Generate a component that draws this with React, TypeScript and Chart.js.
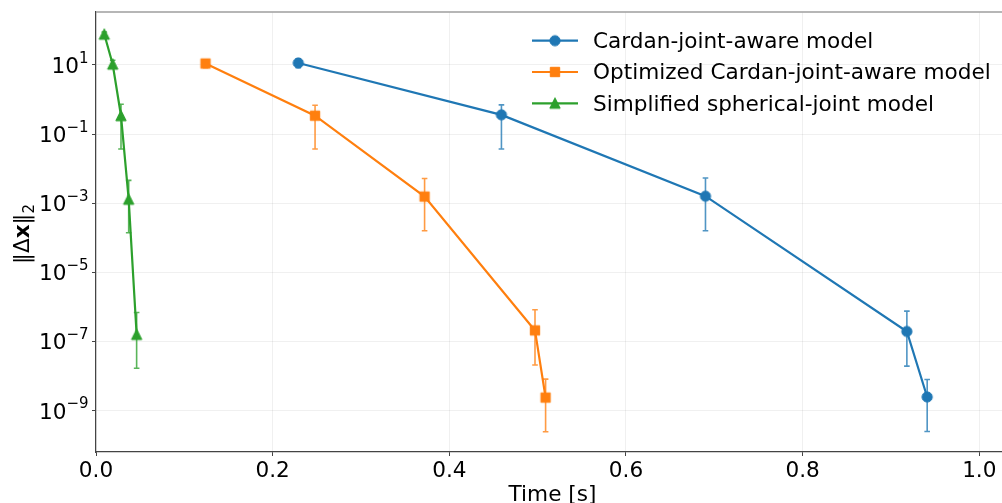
import React, { useEffect, useRef } from 'react';
import { Chart, registerables } from 'chart.js';

Chart.register(...registerables);

const FONT = "'DejaVu Sans', 'Liberation Sans', sans-serif";
const FS = 21.6;

const xTitle = 'Time [s]';
const seriesNames = [
  'Cardan-joint-aware model',
  'Optimized Cardan-joint-aware model',
  'Simplified spherical-joint model',
];
const seriesColors = ['#1f77b4', '#ff7f0e', '#2ca02c'];
const seriesErrColors = ['rgba(31,119,180,0.78)', 'rgba(255,127,14,0.78)', 'rgba(44,160,44,0.78)'];
const seriesMarkers = ['circle', 'square', 'triangle'];

// Cardan-joint-aware model
const cardanTime = [0.229, 0.459, 0.69, 0.918, 0.941];
const cardanErr = [11.4, 0.36, 1.6e-3, 1.96e-7, 2.5e-9];
const cardanUpper = [15, 0.7, 5.4e-3, 7.6e-7, 8.0e-9];
const cardanLower = [8.3, 0.037, 1.6e-4, 1.95e-8, 2.5e-10];

// Optimized Cardan-joint-aware model
const optTime = [0.124, 0.248, 0.372, 0.497, 0.509];
const optErr = [11.0, 0.34, 1.56e-3, 2.1e-7, 2.4e-9];
const optUpper = [14, 0.68, 5.2e-3, 8.3e-7, 8.2e-9];
const optLower = [8.3, 0.037, 1.6e-4, 2.1e-8, 2.47e-10];

// Simplified spherical-joint model
const sphTime = [0.0094, 0.0189, 0.0283, 0.037, 0.046];
const sphErr = [77, 10.5, 0.34, 1.3e-3, 1.6e-7];
const sphUpper = [90, 13.7, 0.73, 4.6e-3, 6.9e-7];
const sphLower = [66, 8.0, 0.037, 1.4e-4, 1.7e-8];

const xTicks = [0, 0.2, 0.4, 0.6, 0.8, 1.0];
const yTickExponents = [-9, -7, -5, -3, -1, 1];

const X_MIN = 0;
const X_MAX = 1.0257;
const Y_MIN = 6.4e-11;
const Y_MAX = 340;

function makeMarker(shape: string, color: string): HTMLCanvasElement {
  const c = document.createElement('canvas');
  c.width = 14;
  c.height = 14;
  const ctx = c.getContext('2d')!;
  ctx.fillStyle = color;
  ctx.strokeStyle = color;
  ctx.lineWidth = 1;
  ctx.beginPath();
  if (shape === 'circle') {
    ctx.arc(7, 7, 5.1, 0, Math.PI * 2);
  } else if (shape === 'square') {
    ctx.rect(2.3, 2.3, 9.4, 9.4);
  } else {
    ctx.moveTo(7, 1.6);
    ctx.lineTo(12.2, 12.0);
    ctx.lineTo(1.8, 12.0);
    ctx.closePath();
  }
  ctx.fill();
  ctx.stroke();
  return c;
}

const errorBarPlugin = {
  id: 'errorBars',
  beforeDatasetsDraw(chart: any) {
    const { ctx, scales } = chart;
    const xs = scales.x;
    const ys = scales.y;
    chart.data.datasets.forEach((ds: any) => {
      ctx.save();
      ctx.strokeStyle = ds.errColor;
      ctx.lineWidth = 1.6;
      ds.data.forEach((pt: any, i: number) => {
        const px = xs.getPixelForValue(pt.x);
        const pTop = ys.getPixelForValue(ds.errUpper[i]);
        const pBot = ys.getPixelForValue(ds.errLower[i]);
        ctx.beginPath();
        ctx.moveTo(px, pTop);
        ctx.lineTo(px, pBot);
        ctx.moveTo(px - 2.8, pTop);
        ctx.lineTo(px + 2.8, pTop);
        ctx.moveTo(px - 2.8, pBot);
        ctx.lineTo(px + 2.8, pBot);
        ctx.stroke();
      });
      ctx.restore();
    });
  },
};

const decorPlugin = {
  id: 'decor',
  afterDraw(chart: any) {
    const { ctx, chartArea, scales } = chart;
    ctx.save();
    // top spine
    ctx.strokeStyle = '#9e9e9e';
    ctx.lineWidth = 1.5;
    ctx.beginPath();
    ctx.moveTo(chartArea.left, chartArea.top);
    ctx.lineTo(chartArea.right, chartArea.top);
    ctx.stroke();
    ctx.restore();

    // y tick labels 10^e
    ctx.save();
    ctx.fillStyle = '#000';
    ctx.textBaseline = 'alphabetic';
    ctx.textAlign = 'left';
    const rightEdge = chartArea.left - 7.5;
    yTickExponents.forEach((e) => {
      const ty = scales.y.getPixelForValue(Math.pow(10, e));
      const expText = (e < 0 ? '\u2212' : '') + String(Math.abs(e));
      ctx.font = `15px ${FONT}`;
      const ew = ctx.measureText(expText).width;
      ctx.font = `${FS}px ${FONT}`;
      const bw = ctx.measureText('10').width;
      const x0 = rightEdge - ew - bw;
      ctx.fillText('10', x0, ty + 7.8);
      ctx.font = `15px ${FONT}`;
      ctx.fillText(expText, x0 + bw, ty - 2.4);
    });
    ctx.restore();

    // x-axis title (centred on the full axes, which extends past the canvas edge)
    ctx.save();
    ctx.fillStyle = '#000';
    ctx.font = `${FS}px ${FONT}`;
    ctx.textAlign = 'center';
    ctx.textBaseline = 'alphabetic';
    ctx.fillText(xTitle, 552.5, 500.5);
    ctx.restore();

    // y-axis title: ‖Δx‖₂
    ctx.save();
    const cy = (chartArea.top + chartArea.bottom) / 2 + 2;
    ctx.translate(29, cy);
    ctx.rotate(-Math.PI / 2);
    ctx.fillStyle = '#000';
    ctx.textBaseline = 'alphabetic';
    const segs = [
      { t: '\u2016\u0394', f: `${FS}px ${FONT}`, dy: 0 },
      { t: 'x', f: `bold ${FS}px ${FONT}`, dy: 0 },
      { t: '\u2016', f: `${FS}px ${FONT}`, dy: 0 },
      { t: '2', f: `15px ${FONT}`, dy: 5 },
    ];
    let total = 0;
    const widths = segs.map((s) => {
      ctx.font = s.f;
      const w = ctx.measureText(s.t).width;
      total += w;
      return w;
    });
    let x = -total / 2;
    segs.forEach((s, i) => {
      ctx.font = s.f;
      ctx.fillText(s.t, x, s.dy);
      x += widths[i];
    });
    ctx.restore();

    // legend
    ctx.save();
    seriesNames.forEach((name, i) => {
      const y = 40.7 + i * 31.3;
      ctx.strokeStyle = seriesColors[i];
      ctx.lineWidth = 2.2;
      ctx.beginPath();
      ctx.moveTo(532, y);
      ctx.lineTo(578, y);
      ctx.stroke();
      const m = chart.data.datasets[i].pointStyle as HTMLCanvasElement;
      if (m && m.width) ctx.drawImage(m, 555 - m.width / 2, y - m.height / 2);
      ctx.fillStyle = '#000';
      ctx.font = `${FS}px ${FONT}`;
      ctx.textBaseline = 'alphabetic';
      ctx.fillText(name, 593, y + 7.2);
    });
    ctx.restore();
  },
};

export default function App() {
  const canvasRef = useRef<HTMLCanvasElement | null>(null);

  useEffect(() => {
    const canvas = canvasRef.current;
    if (!canvas) return;
    const markers = seriesColors.map((c, i) => makeMarker(seriesMarkers[i], c));
    const series = [
      { x: cardanTime, y: cardanErr, up: cardanUpper, lo: cardanLower },
      { x: optTime, y: optErr, up: optUpper, lo: optLower },
      { x: sphTime, y: sphErr, up: sphUpper, lo: sphLower },
    ];
    const datasets = series.map((s, i) => ({
      label: seriesNames[i],
      data: s.x.map((xv, j) => ({ x: xv, y: s.y[j] })),
      borderColor: seriesColors[i],
      backgroundColor: seriesColors[i],
      borderWidth: 2.2,
      pointStyle: markers[i],
      pointRadius: 5,
      pointHoverRadius: 5,
      tension: 0,
      fill: false,
      errUpper: s.up,
      errLower: s.lo,
      errColor: seriesErrColors[i],
    }));

    const chart: any = new Chart(canvas, {
      type: 'line',
      data: { datasets: datasets as any },
      options: {
        responsive: false,
        animation: false,
        events: [],
        layout: { autoPadding: false, padding: { top: 12, left: 0, right: 0, bottom: 0 } },
        plugins: {
          legend: { display: false },
          tooltip: { enabled: false },
        },
        scales: {
          x: {
            type: 'linear',
            min: X_MIN,
            max: X_MAX,
            afterBuildTicks: (s: any) => {
              s.ticks = xTicks.map((v) => ({ value: v }));
            },
            afterFit: (s: any) => {
              s.height = 51;
              s.paddingLeft = 0;
              s.paddingRight = 0;
            },
            ticks: {
              callback: (v: any) => Number(v).toFixed(1),
              font: { family: FONT, size: FS },
              color: '#000',
              padding: 2,
              maxRotation: 0,
              autoSkip: false,
            },
            grid: {
              color: 'rgba(0,0,0,0.08)',
              lineWidth: 0.8,
              tickLength: 4,
              tickColor: '#444',
              tickWidth: 1,
            },
            border: { color: '#444', width: 1.2 },
            title: { display: false },
          },
          y: {
            type: 'logarithmic',
            min: Y_MIN,
            max: Y_MAX,
            afterBuildTicks: (s: any) => {
              s.ticks = yTickExponents.map((e) => ({ value: Math.pow(10, e) }));
            },
            afterFit: (s: any) => {
              s.width = 96;
              s.paddingTop = 0;
              s.paddingBottom = 0;
            },
            ticks: {
              display: false,
              autoSkip: false,
            },
            grid: {
              color: 'rgba(0,0,0,0.08)',
              lineWidth: 0.8,
              tickLength: 4,
              tickColor: '#444',
              tickWidth: 1,
            },
            border: { color: '#444', width: 1.2 },
          },
        },
      } as any,
      plugins: [errorBarPlugin, decorPlugin],
    });

    return () => {
      chart.destroy();
    };
  }, []);

  return (
    <div style={{ position: 'fixed', left: 0, top: 0, width: 1002, height: 503, background: '#fff' }}>
      <canvas ref={canvasRef} width={1002} height={503} style={{ display: 'block' }} />
    </div>
  );
}
